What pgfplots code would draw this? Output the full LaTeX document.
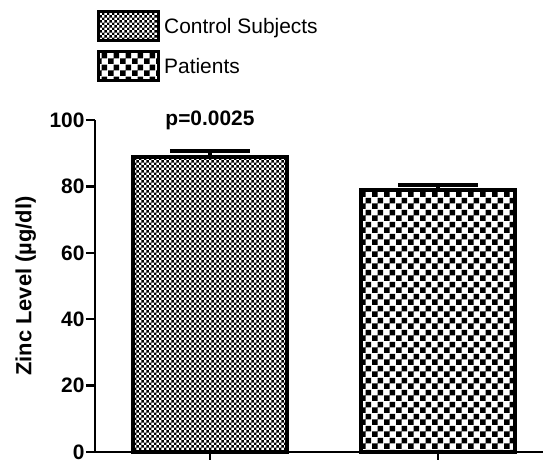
\documentclass[border=0pt]{standalone}
\usepackage{fontspec}
\setmainfont{Liberation Sans}
\usepackage{pgfplots}
\pgfplotsset{compat=1.18}
\usetikzlibrary{patterns,calc}

\pgfdeclarepatternformonly{finecheck}{\pgfpointorigin}{\pgfpoint{5.4bp}{5.4bp}}{\pgfpoint{5.4bp}{5.4bp}}{%
  \pgfpathrectangle{\pgfpointorigin}{\pgfpoint{2.7bp}{2.7bp}}%
  \pgfpathrectangle{\pgfpoint{2.7bp}{2.7bp}}{\pgfpoint{2.7bp}{2.7bp}}%
  \pgfusepath{fill}}
\pgfdeclarepatternformonly{coarsecheck}{\pgfpointorigin}{\pgfpoint{12bp}{12bp}}{\pgfpoint{12bp}{12bp}}{%
  \pgfpathrectangle{\pgfpointorigin}{\pgfpoint{6bp}{6bp}}%
  \pgfpathrectangle{\pgfpoint{6bp}{6bp}}{\pgfpoint{6bp}{6bp}}%
  \pgfusepath{fill}}

\begin{document}
\begin{tikzpicture}
\begin{axis}[
  name=ax,
  scale only axis, width=448bp, height=332bp,
  xmin=0.496, xmax=2.46, ymin=0, ymax=100,
  axis lines*=left,
  ytick={0,20,...,100}, xtick={1,2}, xticklabels={},
  tick align=outside, major tick length=9bp,
  tick style={line width=2.5bp, black},
  axis line style={line width=2.5bp, black},
  /pgf/number format/assume math mode=true,
  yticklabel style={font=\bfseries\fontsize{21}{24}\selectfont, xshift=2bp},
  ylabel={Zinc Level (µg/dl)},
  ylabel style={font=\bfseries\fontsize{22}{24}\selectfont, at={(axis description cs:-0.124,0.5)}, anchor=south},
  clip=false,
  ybar, bar width=154bp,
  legend style={draw=none, fill=none, at={(axis description cs:0,1)}, anchor=north west, xshift=2bp, yshift=110bp,
    font=\fontsize{21}{24}\selectfont, row sep=8bp, inner sep=0pt, nodes={inner xsep=4bp}},
  legend cell align=left,
  error bars/error bar style={line width=4bp, black},
  error bars/error mark options={line width=4bp, mark size=40bp, black, rotate=90},
]
\addplot[bar shift=0pt, draw=black, line width=4bp, pattern=finecheck, pattern color=black,
  error bars/.cd, y dir=plus, y explicit,
  /pgfplots/legend image code/.code={\draw[draw=black, pattern=finecheck, line width=3bp] (0bp,-14.5bp) rectangle (60bp,14.5bp);}]
  coordinates {(1,88.8) +- (0,1.9)};
\addlegendentry{Control Subjects}
\addplot[bar shift=0pt, draw=black, line width=4bp, pattern=coarsecheck, pattern color=black,
  error bars/.cd, y dir=plus, y explicit,
  /pgfplots/legend image code/.code={\draw[draw=black, pattern=coarsecheck, line width=3bp] (0bp,-14.5bp) rectangle (60bp,14.5bp);}]
  coordinates {(2,78.9) +- (0,1.5)};
\addlegendentry{Patients}
\node[font=\bfseries\fontsize{21}{24}\selectfont] at (axis cs:1,100) {p=0.0025};
\end{axis}
\pgfresetboundingbox
\path ($(ax.south west)+(-95bp,-8bp)$) rectangle ($(ax.north east)+(0bp,120bp)$);
\end{tikzpicture}
\end{document}
